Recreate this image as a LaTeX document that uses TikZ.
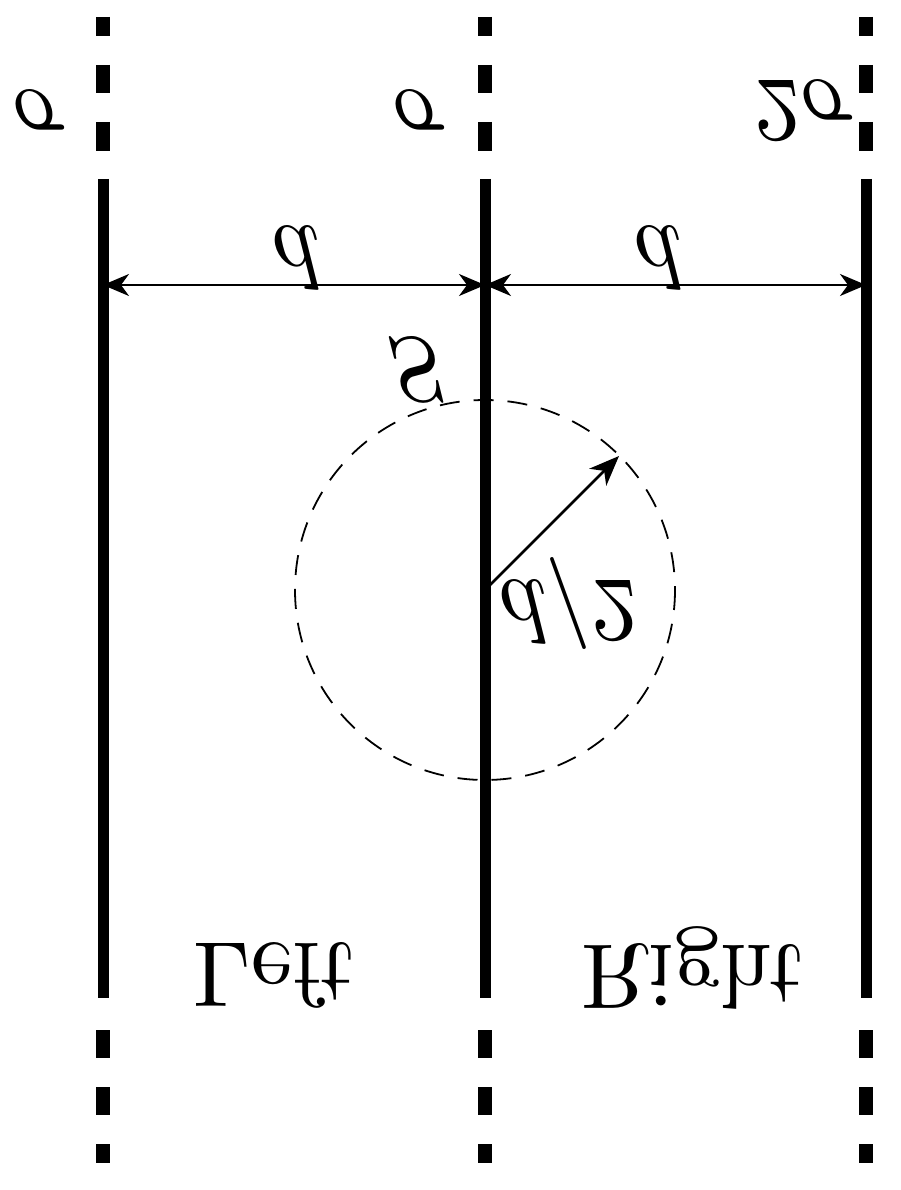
\documentclass[tikz,border=0pt]{standalone}
\usetikzlibrary{arrows.meta}
\begin{document}
\begin{tikzpicture}[x=1pt,y=-1pt,
  plate/.style={line width=11pt},
  dot/.style={line width=14pt},
  dim/.style={line width=2.2pt,{Stealth[length=26pt,width=22pt,inset=8pt]}-{Stealth[length=26pt,width=22pt,inset=8pt]}},
  lbl/.style={font=\fontsize{10}{12}\selectfont, scale=9.2, transform shape, inner sep=0pt}]
\useasboundingbox (0,0) rectangle (900,1190);
\foreach \x/\n in {103/a,485/b,866/c}{
  \coordinate (\n t) at (\x,179);
  \coordinate (\n b) at (\x,998);
  \draw[plate] (\n t) -- (\n b);
  \foreach \s/\e in {17/36,65/93,122/151,1030/1058,1087/1115,1144/1163}
    \draw[dot] (\x,\s) -- (\x,\e);
}
\coordinate (a1) at (103,285);
\coordinate (b1) at (485,285);
\coordinate (c1) at (866,285);
\draw[dim] (a1) -- (b1);
\draw[dim] (b1) -- (c1);
\begin{scope}[yscale=-1]
\node[lbl] (d1) at (295,-258) {$d$};
\node[lbl] (d2) at (657,-258) {$d$};
\node[lbl] (s) at (415,-370) {$S$};
\node[lbl] (h) at (568,-603) {$d/2$};
\node[lbl] (s1) at (40,-110) {$\sigma$};
\node[lbl] (s2) at (420,-110) {$\sigma$};
\node[lbl] (s3) at (805,-110) {$2\sigma$};
\node[lbl] (l) at (275,-975) {Left};
\node[lbl] (rt) at (693,-968) {Right};
\end{scope}
\coordinate (o) at (485,590);
\draw[dashed, line width=1.8pt, dash pattern=on 20pt off 14pt] (o) circle (190);
\coordinate (r) at (619,456);
\draw[line width=2.5pt,-{Stealth[length=30pt,width=24pt,inset=9pt]}] (o) -- (r);
\end{tikzpicture}
\end{document}
